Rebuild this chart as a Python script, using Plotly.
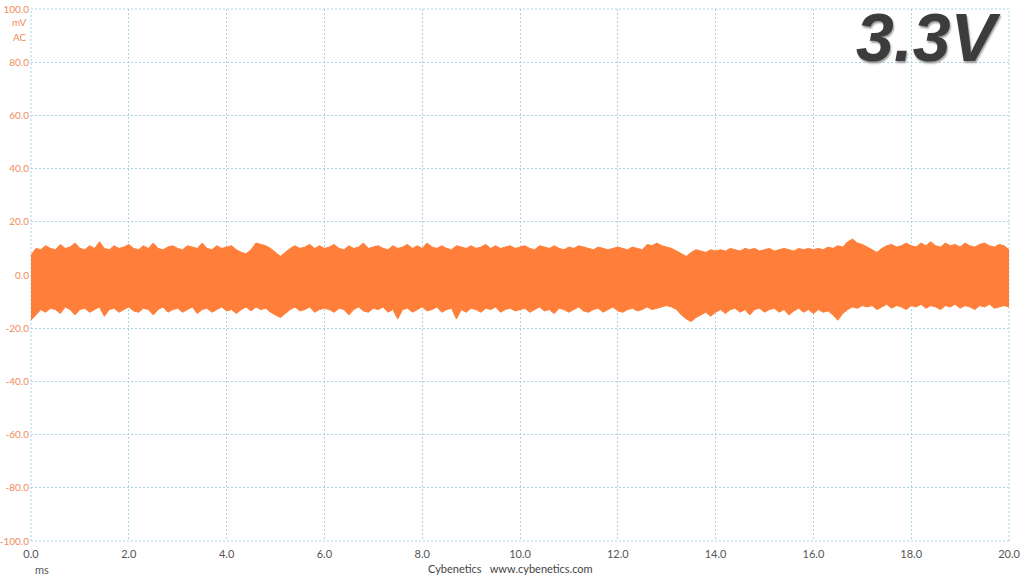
import plotly.graph_objects as go

# time axis (ms), step 0.1 ms
t_ms = [round(i * 0.1, 1) for i in range(201)]

# upper envelope of the ripple band (mV)
upper_mv = [
    7.5, 10, 9.5, 11, 10, 9.5, 11.5, 10, 10.5, 12, 10,
    9.5, 11, 10, 12.5, 10, 9.5, 11, 10, 10.5, 11.5,
    10, 9.5, 11, 10, 12, 10, 9.5, 10.5, 11, 10,
    9.5, 11, 10.5, 10, 12, 10, 9.5, 11, 10, 10.5,
    11, 9.5, 8.5, 8, 9.5, 12, 11.5, 11, 10, 8.5,
    7, 8.5, 10, 11, 10, 10.5, 11.5, 10, 11, 10,
    10.5, 11.5, 10, 9.5, 11, 10, 10.5, 12, 10, 10.5,
    11, 10, 9.5, 11, 10, 10.5, 11.5, 10, 11, 10,
    12, 10.5, 10, 11, 10, 9.5, 11, 10.5, 10, 11,
    10, 10.5, 11.5, 10, 11, 10, 10.5, 11, 10, 10.5,
    11, 10, 9.5, 11, 10.5, 10, 11, 10, 9.5, 10.5,
    10, 11, 10.5, 10, 9.5, 10.5, 10, 9.5, 10, 10.5,
    10, 9.5, 10.5, 10, 9.5, 11.5, 11, 12, 11, 10.5,
    10, 9, 8, 7, 8.5, 9.5, 9, 8.5, 9.5, 9,
    9.5, 9, 10, 9.5, 9, 10, 9.5, 10, 9, 9.5,
    10, 9, 9.5, 10, 9.5, 9, 10, 9.5, 10, 9.5,
    10, 9.5, 10.5, 10, 11, 10.5, 12.5, 13.5, 12, 11.5,
    10.5, 9.5, 8.5, 10, 11, 11.5, 10.5, 11, 12, 11,
    10.5, 12, 11, 12.5, 11, 10.5, 12, 11, 11.5, 10.5,
    12, 11, 10.5, 11.5, 12, 11, 10.5, 11.5, 11, 9.5,
]

# lower envelope of the ripple band (mV)
lower_mv = [
    -17, -15, -13, -14, -12.5, -13, -14.5, -12, -13, -15, -13,
    -12.5, -14, -13, -12, -15.5, -13, -12.5, -14, -13, -12,
    -13.5, -14, -12.5, -13, -15, -13, -12, -14, -13, -12.5,
    -14, -13, -12, -14.5, -13, -12.5, -14, -13, -12, -13.5,
    -13, -14.5, -13, -12, -13.5, -12, -13, -12.5, -14, -15,
    -16, -14.5, -13, -12, -13.5, -13, -12, -14, -13, -12.5,
    -13, -14, -12.5, -13, -15, -13, -12, -13.5, -14, -12.5,
    -13, -12, -14, -13, -16.5, -13, -12.5, -14, -13, -12,
    -13.5, -13, -12, -14, -13, -12.5, -16.5, -13, -14, -12.5,
    -13, -14, -12.5, -13, -12, -14, -13, -12.5, -13.5, -13,
    -12.5, -14, -13, -12, -13.5, -13, -14.5, -12.5, -13, -14,
    -13, -12, -13.5, -14, -13, -12.5, -14, -13, -12, -13.5,
    -14, -13, -12.5, -13.5, -13, -12, -13, -12.5, -12, -11.5,
    -12, -13, -15, -16.5, -17.5, -16, -15, -14, -15.5, -14,
    -13, -14.5, -13, -12.5, -14, -13, -15, -13, -12.5, -14,
    -13, -12.5, -14, -13, -15, -13.5, -12.5, -14, -13, -14.5,
    -13, -14, -13.5, -15, -17, -14.5, -13, -12, -12.5, -11.5,
    -12, -11.5, -13, -12, -11, -12.5, -11.5, -12, -13, -11.5,
    -12, -11, -12.5, -11.5, -12, -13, -11.5, -12, -11, -12.5,
    -11.5, -12, -13, -11.5, -12, -11, -12.5, -12, -11.5, -12,
]

y_ticks = [100, 80, 60, 40, 20, 0, -20, -40, -60, -80, -100]
y_tick_labels = ["100.0", "80.0", "60.0", "40.0", "20.0", "0.0",
                 "-20.0", "-40.0", "-60.0", "-80.0", "-100.0"]
x_ticks = [0, 2, 4, 6, 8, 10, 12, 14, 16, 18, 20]
x_tick_labels = ["0.0", "2.0", "4.0", "6.0", "8.0", "10.0",
                 "12.0", "14.0", "16.0", "18.0", "20.0"]

trace_color = "#FF7F3A"
label_orange = "#F08C5A"
grid_color = "#A9D3E3"
font_family = "Lato, Noto Sans, sans-serif"

W, H = 1024, 576
ML, MR, MT, MB = 31, 15, 9, 35
plot_w = W - ML - MR
plot_h = H - MT - MB

fig = go.Figure()
fig.add_trace(go.Scatter(x=t_ms, y=upper_mv, mode="lines",
                         line=dict(color=trace_color, width=1),
                         hoverinfo="skip", showlegend=False))
fig.add_trace(go.Scatter(x=t_ms, y=lower_mv, mode="lines",
                         line=dict(color=trace_color, width=1),
                         fill="tonexty", fillcolor=trace_color,
                         hoverinfo="skip", showlegend=False))

fig.update_layout(
    width=W, height=H,
    margin=dict(l=ML, r=MR, t=MT, b=MB, autoexpand=False),
    paper_bgcolor="white", plot_bgcolor="white",
    font=dict(family=font_family, size=11, color="#555555"),
    xaxis=dict(range=[0, 20], tickvals=x_ticks, ticktext=x_tick_labels,
               showgrid=True, gridcolor=grid_color, griddash="2px,2px",
               gridwidth=1, zeroline=False, showline=False, ticks="",
               ticklabelstandoff=5,
               tickfont=dict(color="#555555", size=11), fixedrange=True),
    yaxis=dict(range=[-100, 100], tickvals=y_ticks, ticktext=y_tick_labels,
               showgrid=True, gridcolor=grid_color, griddash="2px,2px",
               gridwidth=1, zeroline=False, showline=False, ticks="",
               ticklabelstandoff=1,
               tickfont=dict(color=label_orange, size=10), fixedrange=True),
)

# dashed frame along the plot edges (grid lines at range ends)
for x0, y0, x1, y1 in [(0, 0, 0, 1), (1, 0, 1, 1), (0, 0, 1, 0), (0, 1, 1, 1)]:
    fig.add_shape(type="line", xref="paper", yref="paper",
                  x0=x0, y0=y0, x1=x1, y1=y1, layer="below",
                  line=dict(color=grid_color, width=1, dash="2px,2px"))


def px_to_paper(px, py):
    return (px - ML) / plot_w, (H - MB - py) / plot_h


for txt, px, py, color, anchor in [
    ("mV", 29, 22, label_orange, "right"),
    ("AC", 29, 37, label_orange, "right"),
    ("ms", 33, 569, "#555555", "left"),
    ("Cybenetics   www.cybenetics.com", 510, 568, "#444444", "center"),
]:
    xp, yp = px_to_paper(px, py)
    fig.add_annotation(text=txt, x=xp, y=yp, xref="paper", yref="paper",
                       xanchor=anchor, yanchor="middle", showarrow=False,
                       font=dict(color=color, size=11 if color != label_orange else 10,
                                 family=font_family))

# big title with shadow
xp, yp = px_to_paper(1004, 37)
fig.add_annotation(text="3.3V", x=xp, y=yp, xref="paper", yref="paper",
                   xanchor="right", yanchor="middle", showarrow=False,
                   font=dict(family="Liberation Sans, Arial, sans-serif",
                             size=68, color="#3C3C3C", weight="bold",
                             style="italic",
                             shadow="1px 2px 2px #9a9a9a"))

fig.write_html("out.html",
               config={"displayModeBar": False},
               post_script="document.body.style.margin='0';"
                           "document.body.style.overflow='hidden';")
